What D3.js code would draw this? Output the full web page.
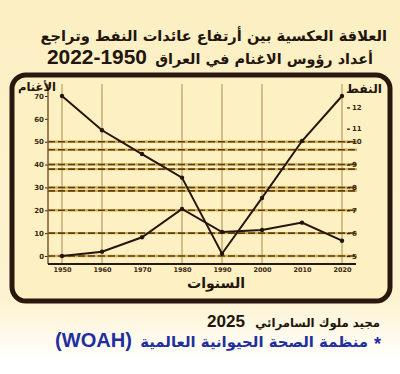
<!DOCTYPE html>
<html><head><meta charset="utf-8">
<script src="https://cdn.jsdelivr.net/npm/d3@7"></script>
<style>html,body{margin:0;padding:0;background:#fcefc3;}svg{display:block;}</style>
</head><body>
<script>
// ---- data ----
const years = [1950, 1960, 1970, 1980, 1990, 2000, 2010, 2020];
const sheep = [70, 55, 44.6, 34.3, 1, 25.4, 50.3, 70];          // left axis (الأغنام)
const oil = [5.0, 5.19, 5.82, 7.06, 6.05, 6.14, 6.46, 5.67];     // right axis (النفط)
const leftTicks = [0, 10, 20, 30, 40, 50, 60, 70];
const rightTickValues = [5, 6, 7, 8, 9, 10, 10.57, 11.5];
const rightTickLabels = ["5", "6", "7", "8", "9", "10", "11", "12"];
const gridMain = [0, 10, 20, 30, 40, 50];
const gridSecond = [46.5, 38, 28.5];
const vGridYears = [1950, 1960, 1980, 1990, 2000, 2020];
const titleLine1 = "العلاقة العكسية بين  أرتفاع عائدات النفط وتراجع";
const titleLine2 = "أعداد رؤوس الاغنام في العراق";
const titleYears = "2022-1950";
const leftLabel = "الأغنام";
const rightLabel = "النفط";
const xLabel = "السنوات";
const authorName = "مجيد ملوك السامرائي";
const authorYear = "2025";
const sourceText = "منظمة الصحة الحيوانية العالمية";
const sourceAbbr = "(WOAH)";

// ---- setup ----
const W = 400, H = 374;
const svg = d3.select("body").append("svg").attr("width", W).attr("height", H);
const defs = svg.append("defs");
const g = defs.append("linearGradient").attr("id", "bg").attr("x1", 0).attr("y1", 0).attr("x2", 0).attr("y2", 1);
g.append("stop").attr("offset", "0").attr("stop-color", "#fcefc3");
g.append("stop").attr("offset", "0.8").attr("stop-color", "#fdf3d0");
g.append("stop").attr("offset", "0.97").attr("stop-color", "#ffffff");
svg.append("rect").attr("width", W).attr("height", H).attr("fill", "url(#bg)");

const AR = "'DejaVu Sans', sans-serif";
const dark = "#22150b";

function fit(sel, width) {
  const w = sel.node().getComputedTextLength();
  const fs = parseFloat(sel.attr("font-size"));
  sel.attr("font-size", fs * width / w);
  return sel;
}

// titles
fit(svg.append("text").attr("x", 387).attr("y", 41).attr("text-anchor", "end")
  .attr("font-family", AR).attr("font-weight", "bold").attr("font-size", 18).attr("fill", dark)
  .text(titleLine1), 347);
fit(svg.append("text").attr("x", 373).attr("y", 64).attr("text-anchor", "end")
  .attr("font-family", AR).attr("font-weight", "bold").attr("font-size", 18).attr("fill", dark)
  .text(titleLine2), 218);
fit(svg.append("text").attr("x", 47).attr("y", 64).attr("text-anchor", "start")
  .attr("font-family", "'Liberation Sans', Arial, sans-serif").attr("font-weight", "bold").attr("font-size", 20).attr("fill", dark)
  .text(titleYears), 100);

// frame
svg.append("rect").attr("x", 12).attr("y", 75).attr("width", 378).attr("height", 226)
  .attr("rx", 14).attr("fill", "#fdf0c2").attr("stroke", "#2a1810").attr("stroke-width", 5);

// scales
const x = d3.scaleLinear().domain([1950, 2020]).range([62, 342]);
const yL = d3.scaleLinear().domain([0, 70]).range([256, 96]);
const yR = d3.scaleLinear().domain([5, 12]).range([256, 96]);

const plot = svg.append("g");

// vertical grid
plot.selectAll(".vg").data(vGridYears).enter().append("line")
  .attr("x1", d => x(d)).attr("x2", d => x(d)).attr("y1", 84).attr("y2", 264)
  .attr("stroke", "#ab8a4a").attr("stroke-width", 1);

// horizontal dashed grid
const hgrid = gridMain.concat(gridSecond);
plot.selectAll(".hgb").data(hgrid).enter().append("line")
  .attr("x1", 48).attr("x2", 357).attr("y1", d => yL(d)).attr("y2", d => yL(d))
  .attr("stroke", "#d2ab52").attr("stroke-width", 2.4);
plot.selectAll(".hgd").data(hgrid).enter().append("line")
  .attr("x1", 48).attr("x2", 357).attr("y1", d => yL(d)).attr("y2", d => yL(d))
  .attr("stroke", "#5e4112").attr("stroke-width", 1.6).attr("stroke-dasharray", "7,3");

// left axis
const leftAxis = d3.axisLeft(yL).tickValues(leftTicks).tickSize(3).tickPadding(1).tickFormat(d3.format("d"));
const la = plot.append("g").attr("transform", "translate(48,0)").call(leftAxis);
la.select(".domain").remove();
la.append("line").attr("x1", 0).attr("x2", 0).attr("y1", 84).attr("y2", 264).attr("stroke", "#7a5a28").attr("stroke-width", 1.5);
la.selectAll("text").attr("font-size", 7).attr("font-weight", "bold").attr("fill", "#3a2810").attr("font-family", "'DejaVu Sans', sans-serif");
la.selectAll(".tick line").attr("stroke", "#3a2810");

// right axis
const rightAxis = d3.axisRight(yR).tickValues(rightTickValues).tickSize(3).tickPadding(2)
  .tickFormat((d, i) => rightTickLabels[i]);
const ra = plot.append("g").attr("transform", "translate(347,0)").call(rightAxis);
ra.select(".domain").remove();
ra.selectAll("text").attr("font-size", 7).attr("font-weight", "bold").attr("fill", "#3a2810").attr("font-family", "'DejaVu Sans', sans-serif");
ra.selectAll(".tick line").attr("stroke", "#3a2810").attr("stroke-width", 1.3);

// bottom axis
const bottomAxis = d3.axisBottom(x).tickValues(years).tickSize(0).tickPadding(3).tickFormat(d3.format("d"));
const ba = plot.append("g").attr("transform", "translate(0,264)").call(bottomAxis);
ba.select(".domain").remove();
ba.append("line").attr("x1", 48).attr("x2", 356).attr("y1", 0).attr("y2", 0).attr("stroke", "#2a1810").attr("stroke-width", 2);
ba.selectAll("text").attr("font-size", 6.5).attr("font-weight", "bold").attr("fill", "#3a2810").attr("font-family", "'DejaVu Sans', sans-serif");

// lines
const lineL = d3.line().x((d, i) => x(years[i])).y(d => yL(d));
const lineR = d3.line().x((d, i) => x(years[i])).y(d => yR(d));
plot.append("path").datum(sheep).attr("d", lineL).attr("fill", "none").attr("stroke", "#24160c").attr("stroke-width", 2);
plot.append("path").datum(oil).attr("d", lineR).attr("fill", "none").attr("stroke", "#24160c").attr("stroke-width", 2);
plot.selectAll(".ds").data(sheep).enter().append("circle")
  .attr("cx", (d, i) => x(years[i])).attr("cy", d => yL(d)).attr("r", 2.2).attr("fill", "#24160c");
plot.selectAll(".do").data(oil).enter().append("circle")
  .attr("cx", (d, i) => x(years[i])).attr("cy", d => yR(d)).attr("r", 2.2).attr("fill", "#24160c");

// axis titles
fit(svg.append("text").attr("x", 56).attr("y", 91).attr("text-anchor", "end")
  .attr("font-family", AR).attr("font-weight", "bold").attr("font-size", 15).attr("fill", dark)
  .text(leftLabel), 38);
fit(svg.append("text").attr("x", 382).attr("y", 93).attr("text-anchor", "end")
  .attr("font-family", AR).attr("font-weight", "bold").attr("font-size", 15).attr("fill", dark)
  .text(rightLabel), 36);
fit(svg.append("text").attr("x", 245).attr("y", 288).attr("text-anchor", "end")
  .attr("font-family", AR).attr("font-weight", "bold").attr("font-size", 20).attr("fill", dark)
  .text(xLabel), 58);

// footer
fit(svg.append("text").attr("x", 380).attr("y", 327).attr("text-anchor", "end")
  .attr("font-family", AR).attr("font-weight", "bold").attr("font-size", 14).attr("fill", dark)
  .text(authorName), 125);
fit(svg.append("text").attr("x", 245).attr("y", 327).attr("text-anchor", "end")
  .attr("font-family", "'Liberation Sans', Arial, sans-serif").attr("font-weight", "bold").attr("font-size", 14).attr("fill", dark)
  .text(authorYear), 38);
svg.append("text").attr("x", 381).attr("y", 350).attr("text-anchor", "end")
  .attr("font-family", "'Liberation Sans', Arial, sans-serif").attr("font-weight", "bold").attr("font-size", 18).attr("fill", "#1f2f9e")
  .text("*");
fit(svg.append("text").attr("x", 368).attr("y", 347).attr("text-anchor", "end")
  .attr("font-family", AR).attr("font-weight", "bold").attr("font-size", 17).attr("fill", "#1f2f9e")
  .text(sourceText), 228);
fit(svg.append("text").attr("x", 55).attr("y", 347).attr("text-anchor", "start")
  .attr("font-family", "'Liberation Sans', Arial, sans-serif").attr("font-weight", "bold").attr("font-size", 17).attr("fill", "#1f2f9e")
  .text(sourceAbbr), 77);
</script>
</body></html>
